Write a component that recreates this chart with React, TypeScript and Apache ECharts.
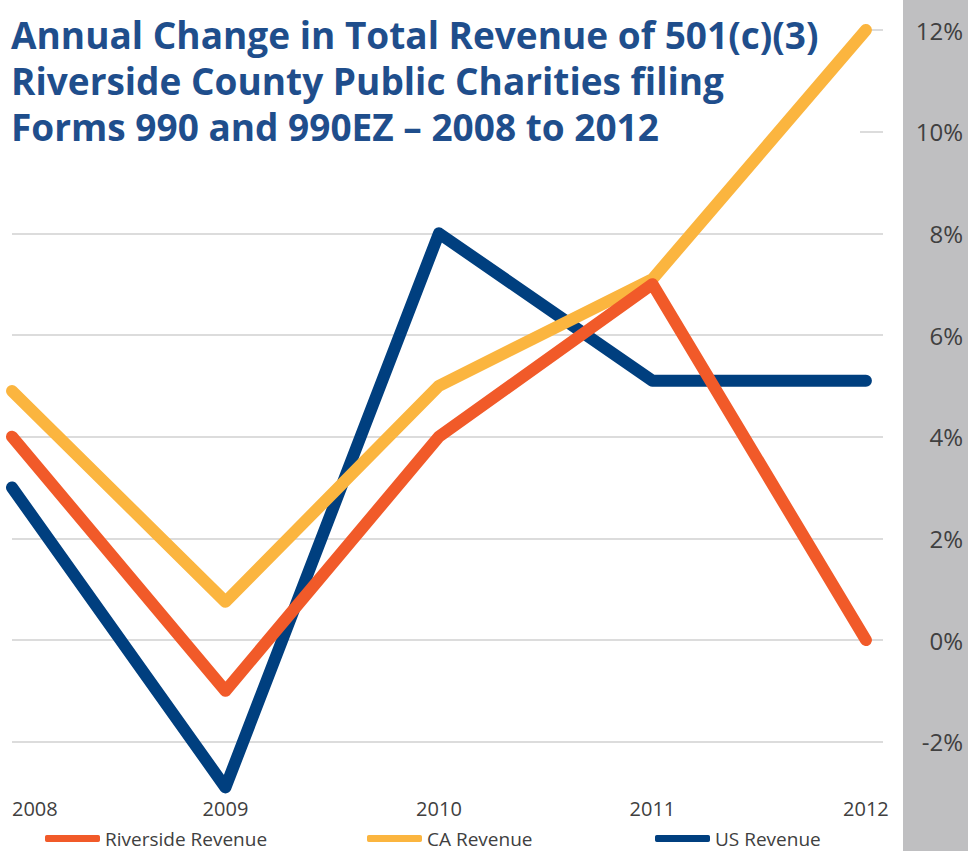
import React, { useEffect, useRef } from "react";
import * as echarts from "echarts";

const years = [2008, 2009, 2010, 2011, 2012];
const riverside = [4.0, -1.0, 4.0, 7.0, 0.0];
const caRevenue = [4.9, 0.75, 5.0, 7.1, 12.0];
const usRevenue = [3.0, -2.9, 8.0, 5.1, 5.1];
const seriesNames = ["Riverside Revenue", "CA Revenue", "US Revenue"];
const titleText =
  "Annual Change in Total Revenue of 501(c)(3)\nRiverside County Public Charities filing\nForms 990 and 990EZ – 2008 to 2012";

const COLORS = ["#F15A29", "#FBB53F", "#003F7F"];
const FONT = "'Open Sans', 'Noto Sans', sans-serif";

export default function App() {
  const ref = useRef<HTMLDivElement>(null);
  useEffect(() => {
    if (!ref.current) return;
    const chart = echarts.init(ref.current, null, { renderer: "svg" });
    const toPairs = (vals: number[]) => years.map((y, i) => [y, vals[i]]);
    const allVals = [riverside, caRevenue, usRevenue];
    const legendLefts = [40, 362, 650];
    chart.setOption({
      animation: false,
      backgroundColor: "#ffffff",
      title: {
        text: titleText,
        left: 6,
        top: 6,
        textStyle: {
          fontFamily: FONT,
          fontWeight: "bold",
          fontSize: 37,
          lineHeight: 46,
          color: "#1F4E8C",
        },
      },
      graphic: [
        {
          type: "rect",
          z: -1,
          shape: { x: 903, y: 0, width: 65, height: 851 },
          style: { fill: "#BFBFC1" },
        },
        {
          type: "rect",
          z: 1,
          shape: { x: 0, y: 0, width: 860, height: 150 },
          style: { fill: "#ffffff" },
        },
      ],
      legend: seriesNames.map((n, i) => ({
        data: [n],
        left: legendLefts[i],
        top: 824,
        icon: "roundRect",
        itemWidth: 55,
        itemHeight: 7,
        textStyle: { fontFamily: FONT, fontSize: 19, color: "#404040" },
      })),
      grid: { left: 12, right: 85, top: 30, bottom: 851 - 792.5, containLabel: false },
      xAxis: {
        type: "value",
        min: 2008,
        max: 2012.08,
        interval: 1,
        axisLine: { show: false },
        axisTick: { show: false },
        splitLine: { show: false },
        axisLabel: {
          fontFamily: FONT,
          fontSize: 20,
          color: "#404040",
          margin: 6,
          showMaxLabel: false,
          alignMinLabel: "left",
          formatter: (v: number) => (Number.isInteger(v) ? String(v) : ""),
        },
      },
      yAxis: {
        type: "value",
        position: "right",
        min: -3,
        max: 12,
        minInterval: 2,
        maxInterval: 2,
        axisLine: { show: false },
        axisTick: { show: false },
        splitLine: {
          show: true,
          showMinLine: false,
          lineStyle: { color: "#D0D0D0", width: 1.5 },
        },
        axisLabel: {
          fontFamily: FONT,
          fontSize: 24,
          color: "#404040",
          align: "right",
          margin: 80,
          showMinLabel: false,
          formatter: (v: number) => (Number.isInteger(v) && v % 2 === 0 ? v + "%" : ""),
        },
      },
      series: seriesNames.map((n, i) => ({
        name: n,
        type: "line",
        data: toPairs(allVals[i]),
        z: 4 - i,
        showSymbol: false,
        symbol: "none",
        clip: false,
        color: COLORS[i],
        lineStyle: { width: 12, color: COLORS[i], cap: "round", join: "round" },
      })),
    });
    return () => chart.dispose();
  }, []);
  return (
    <div
      ref={ref}
      style={{ position: "fixed", left: 0, top: 0, width: 968, height: 851 }}
    />
  );
}
